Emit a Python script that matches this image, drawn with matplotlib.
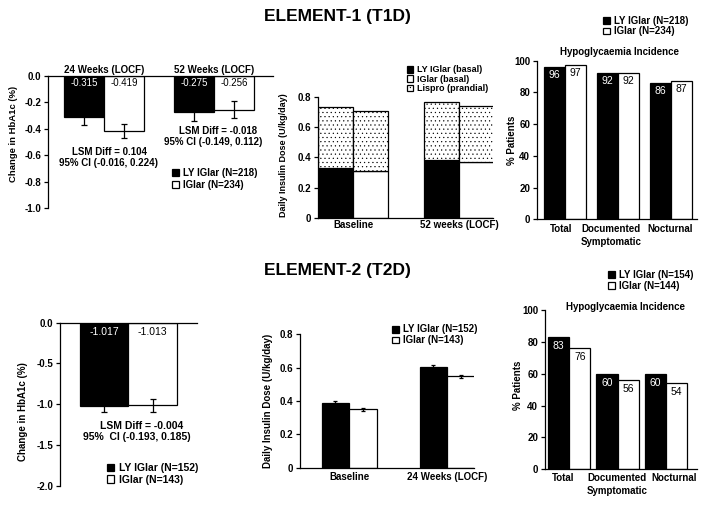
import matplotlib.pyplot as plt
from matplotlib.ticker import FormatStrFormatter

plt.rcParams['font.family'] = ['Liberation Sans', 'DejaVu Sans']
plt.rcParams['axes.unicode_minus'] = False
plt.rcParams['hatch.linewidth'] = 0.35
plt.rcParams['hatch.color'] = '#444444'

W, H = 709, 505

# ---- ELEMENT-1 (T1D) ----
t1_weeks = ['24 Weeks (LOCF)', '52 Weeks (LOCF)']
t1_hba1c_ly = [-0.315, -0.275]
t1_hba1c_ig = [-0.419, -0.256]
t1_hba1c_ly_err = [0.055, 0.065]
t1_hba1c_ig_err = [0.055, 0.066]
t1_lsm = ['LSM Diff = 0.104', 'LSM Diff = -0.018']
t1_ci = ['95% CI (-0.016, 0.224)', '95% CI (-0.149, 0.112)']
t1_legend = ['LY IGlar (N=218)', 'IGlar (N=234)']

t1_dose_cats = ['Baseline', '52 weeks (LOCF)']
t1_ly_basal = [0.333, 0.384]
t1_ig_basal = [0.313, 0.367]
t1_ly_prandial = [0.404, 0.380]
t1_ig_prandial = [0.397, 0.373]
t1_dose_legend = ['LY IGlar (basal)', 'IGlar (basal)', 'Lispro (prandial)']

hypo_cats = ['Total', 'Documented\nSymptomatic', 'Nocturnal']
t1_hypo_ly = [96, 92, 86]
t1_hypo_ig = [97, 92, 87]
t1_hypo_legend = ['LY IGlar (N=218)', 'IGlar (N=234)']

# ---- ELEMENT-2 (T2D) ----
t2_hba1c_ly = [-1.017]
t2_hba1c_ig = [-1.013]
t2_hba1c_ly_err = [0.08]
t2_hba1c_ig_err = [0.08]
t2_lsm = 'LSM Diff = -0.004'
t2_ci = '95%  CI (-0.193, 0.185)'
t2_legend = ['LY IGlar (N=152)', 'IGlar (N=143)']

t2_dose_cats = ['Baseline', '24 Weeks (LOCF)']
t2_dose_ly = [0.386, 0.606]
t2_dose_ig = [0.350, 0.548]
t2_dose_ly_err = [0.012, 0.012]
t2_dose_ig_err = [0.010, 0.010]
t2_dose_legend = ['LY IGlar (N=152)', 'IGlar (N=143)']

t2_hypo_ly = [83, 60, 60]
t2_hypo_ig = [76, 56, 54]
t2_hypo_legend = ['LY IGlar (N=154)', 'IGlar (N=144)']

fig = plt.figure(figsize=(W / 100, H / 100), dpi=100)


def make_ax(left, right, top, bottom):
    return fig.add_axes([left / W, 1 - bottom / H, (right - left) / W, (bottom - top) / H])


def fx(x):
    return x / W


def fy(y):
    return 1 - y / H


def style_ax(ax, top_line=False):
    ax.spines['right'].set_visible(False)
    if top_line:
        ax.spines['bottom'].set_visible(False)
    else:
        ax.spines['top'].set_visible(False)
    for s in ax.spines.values():
        s.set_linewidth(0.9)
    ax.tick_params(axis='y', direction='out', length=3, width=0.9, pad=2, labelsize=7)
    ax.tick_params(axis='x', length=0, labelsize=7)
    for lab in ax.get_yticklabels() + ax.get_xticklabels():
        lab.set_fontweight('bold')


def ylab(text, x, y, size=6.5):
    fig.text(fx(x), fy(y), text, rotation=90, ha='center', va='center',
             fontsize=size, fontweight='bold')


def put_legend(ax, handles, labels, x, top, size=7, spacing=0.2):
    ax.legend(handles, labels, loc='upper left', bbox_to_anchor=(fx(x), fy(top)),
              bbox_transform=fig.transFigure, frameon=False, borderpad=0,
              borderaxespad=0, handlelength=0.7, handleheight=0.7,
              handletextpad=0.45, labelspacing=spacing,
              prop=dict(weight='bold', size=size))


ekw = dict(lw=0.9, ecolor='black', capthick=0.9)
bkw = dict(edgecolor='black', linewidth=0.9)

# ===== Panel 1: HbA1c T1D =====
ax1 = make_ax(48, 273, 75.7, 208)
c1 = [1.4, 4.15]
b_ly = ax1.bar([c - 0.5 for c in c1], t1_hba1c_ly, width=1, color='black',
               yerr=t1_hba1c_ly_err, capsize=2, error_kw=ekw, **bkw)
b_ig = ax1.bar([c + 0.5 for c in c1], t1_hba1c_ig, width=1, color='white',
               yerr=t1_hba1c_ig_err, capsize=2, error_kw=ekw, **bkw)
ax1.set_xlim(0, 5.625)
ax1.set_ylim(-1.0, 0)
ax1.set_yticks([0, -0.2, -0.4, -0.6, -0.8, -1.0])
ax1.yaxis.set_major_formatter(FormatStrFormatter('%.1f'))
ax1.set_xticks([])
style_ax(ax1, top_line=True)
for i, c in enumerate(c1):
    ax1.text(c - 0.5, -0.058, f'{t1_hba1c_ly[i]:.3f}', color='white', ha='center', va='center', fontsize=7)
    ax1.text(c + 0.5, -0.058, f'{t1_hba1c_ig[i]:.3f}', color='black', ha='center', va='center', fontsize=7)
    ax1.text(c, 0.045, t1_weeks[i], ha='center', va='center', fontsize=7, fontweight='bold')
ax1.text(1.55, -0.578, t1_lsm[0], ha='center', va='center', fontsize=7, fontweight='bold')
ax1.text(1.52, -0.661, t1_ci[0], ha='center', va='center', fontsize=7, fontweight='bold')
ax1.text(4.24, -0.42, t1_lsm[1], ha='center', va='center', fontsize=7, fontweight='bold')
ax1.text(4.12, -0.50, t1_ci[1], ha='center', va='center', fontsize=7, fontweight='bold')
put_legend(ax1, [b_ly, b_ig], t1_legend, 172, 168)
ylab('Change in HbA1c (%)', 13.5, 134, size=6.8)

# ===== Panel 2: insulin dose T1D =====
ax2 = make_ax(318, 493, 97, 218)
c2 = [1.01, 4.06]
p_lyb = ax2.bar([c - 0.5 for c in c2], t1_ly_basal, width=1, color='black', **bkw)
ax2.bar([c - 0.5 for c in c2], t1_ly_prandial, bottom=t1_ly_basal, width=1,
        color='white', hatch='....', **bkw)
p_igb = ax2.bar([c + 0.5 for c in c2], t1_ig_basal, width=1, color='white', **bkw)
p_pr = ax2.bar([c + 0.5 for c in c2], t1_ig_prandial, bottom=t1_ig_basal, width=1,
               color='white', hatch='....', **bkw)
ax2.set_xlim(0, 5.04)
ax2.set_ylim(0, 0.8)
ax2.set_yticks([0, 0.2, 0.4, 0.6, 0.8])
ax2.set_yticklabels(['0', '0.2', '0.4', '0.6', '0.8'])
ax2.set_xticks(c2)
ax2.set_xticklabels(t1_dose_cats)
style_ax(ax2)
ax2.tick_params(axis='x', pad=1.5)
put_legend(ax2, [p_lyb, p_igb, p_pr], t1_dose_legend, 407, 65.5, size=6.5, spacing=0.02)
ylab('Daily Insulin Dose (U/kg/day)', 283, 155)

# ===== Panel 3: hypo T1D =====
ax3 = make_ax(537, 697, 60.7, 219.3)
c3 = [1.31, 3.80, 6.29]
h_ly = ax3.bar([c - 0.5 for c in c3], t1_hypo_ly, width=1, color='black', **bkw)
h_ig = ax3.bar([c + 0.5 for c in c3], t1_hypo_ig, width=1, color='white', **bkw)
for i, c in enumerate(c3):
    ax3.text(c - 0.5, t1_hypo_ly[i] - 5, str(t1_hypo_ly[i]), color='white', ha='center', va='center', fontsize=7.5)
    ax3.text(c + 0.5, t1_hypo_ig[i] - 5, str(t1_hypo_ig[i]), color='black', ha='center', va='center', fontsize=7.5)
ax3.set_xlim(0, 7.51)
ax3.set_ylim(0, 100)
ax3.set_yticks(range(0, 101, 20))
ax3.set_xticks([1.11, 3.46, 6.24])
ax3.set_xticklabels(hypo_cats, linespacing=1.35)
style_ax(ax3)
ax3.tick_params(axis='x', pad=3.5)
fig.text(fx(620), fy(52), 'Hypoglycaemia Incidence', ha='center', va='center', fontsize=7, fontweight='bold')
put_legend(ax3, [h_ly, h_ig], t1_hypo_legend, 603, 15.5, spacing=0.1)
ylab('% Patients', 512, 140, size=7)

# ===== Panel 4: HbA1c T2D =====
ax4 = make_ax(60, 197, 322.7, 485.7)
c4 = [1.41]
b4_ly = ax4.bar([c - 0.5 for c in c4], t2_hba1c_ly, width=1, color='black',
                yerr=t2_hba1c_ly_err, capsize=2, error_kw=ekw, **bkw)
b4_ig = ax4.bar([c + 0.5 for c in c4], t2_hba1c_ig, width=1, color='white',
                yerr=t2_hba1c_ig_err, capsize=2, error_kw=ekw, **bkw)
ax4.set_xlim(0, 2.82)
ax4.set_ylim(-2.0, 0)
ax4.set_yticks([0, -0.5, -1.0, -1.5, -2.0])
ax4.yaxis.set_major_formatter(FormatStrFormatter('%.1f'))
ax4.set_xticks([])
style_ax(ax4, top_line=True)
ax4.text(c4[0] - 0.5, -0.118, f'{t2_hba1c_ly[0]:.3f}', color='white', ha='center', va='center', fontsize=7.5)
ax4.text(c4[0] + 0.5, -0.118, f'{t2_hba1c_ig[0]:.3f}', color='black', ha='center', va='center', fontsize=7.5)
ax4.text(1.67, -1.265, t2_lsm, ha='center', va='center', fontsize=7.5, fontweight='bold')
ax4.text(1.58, -1.405, t2_ci, ha='center', va='center', fontsize=7.5, fontweight='bold')
put_legend(ax4, [b4_ly, b4_ig], t2_legend, 107, 463, size=7.5, spacing=0.15)
ylab('Change in HbA1c (%)', 23, 412, size=7)

# ===== Panel 5: insulin dose T2D =====
ax5 = make_ax(300, 474, 334.3, 467.7)
c5 = [1.79, 5.35]
d_ly = ax5.bar([c - 0.5 for c in c5], t2_dose_ly, width=1, color='black',
               yerr=t2_dose_ly_err, capsize=1.5, error_kw=ekw, **bkw)
d_ig = ax5.bar([c + 0.5 for c in c5], t2_dose_ig, width=1, color='white',
               yerr=t2_dose_ig_err, capsize=1.5, error_kw=ekw, **bkw)
ax5.set_xlim(0, 6.33)
ax5.set_ylim(0, 0.8)
ax5.set_yticks([0, 0.2, 0.4, 0.6, 0.8])
ax5.set_yticklabels(['0', '0.2', '0.4', '0.6', '0.8'])
ax5.set_xticks(c5)
ax5.set_xticklabels(t2_dose_cats)
style_ax(ax5)
ax5.tick_params(axis='x', pad=3)
put_legend(ax5, [d_ly, d_ig], t2_dose_legend, 392, 324.5, spacing=0.1)
ylab('Daily Insulin Dose (U/kg/day)', 268, 401, size=7)

# ===== Panel 6: hypo T2D =====
ax6 = make_ax(545, 696.7, 310, 469.3)
c6 = [1.13, 3.41, 5.68]
g_ly = ax6.bar([c - 0.5 for c in c6], t2_hypo_ly, width=1, color='black', **bkw)
g_ig = ax6.bar([c + 0.5 for c in c6], t2_hypo_ig, width=1, color='white', **bkw)
for i, c in enumerate(c6):
    ax6.text(c - 0.5, t2_hypo_ly[i] - 5.7, str(t2_hypo_ly[i]), color='white', ha='center', va='center', fontsize=7.5)
    ax6.text(c + 0.5, t2_hypo_ig[i] - 5.7, str(t2_hypo_ig[i]), color='black', ha='center', va='center', fontsize=7.5)
ax6.set_xlim(0, 7.12)
ax6.set_ylim(0, 100)
ax6.set_yticks(range(0, 101, 20))
ax6.set_xticks([0.85, 3.38, 6.06])
ax6.set_xticklabels(hypo_cats, linespacing=1.35)
style_ax(ax6)
ax6.tick_params(axis='x', pad=3)
fig.text(fx(626), fy(307.5), 'Hypoglycaemia Incidence', ha='center', va='center', fontsize=7, fontweight='bold')
put_legend(ax6, [g_ly, g_ig], t2_hypo_legend, 608, 270, spacing=0.1)
ylab('% Patients', 518, 385, size=7)

# section titles
fig.text(fx(337), fy(17), 'ELEMENT-1 (T1D)', ha='center', va='center', fontsize=12.5, fontweight='bold')
fig.text(fx(337), fy(270), 'ELEMENT-2 (T2D)', ha='center', va='center', fontsize=12.5, fontweight='bold')

fig.savefig('out.png', dpi=100)
